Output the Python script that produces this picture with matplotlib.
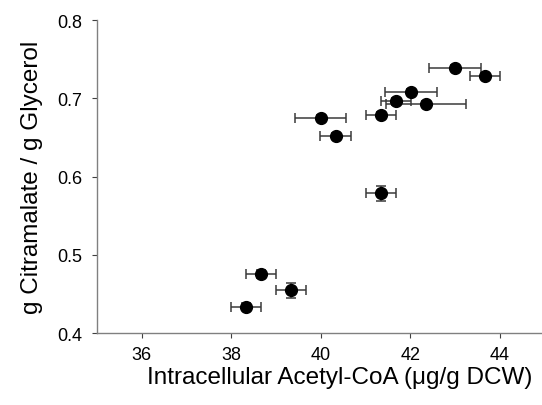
import matplotlib
matplotlib.use("Agg")
import matplotlib.pyplot as plt

plt.rcParams['font.family'] = ['Liberation Sans', 'DejaVu Sans']

# intracellular acetyl-CoA (ug/g DCW) and citramalate yield
acetyl_coa = [43.0, 43.67, 42.01, 41.68, 42.35, 41.35, 40.0, 40.33, 41.35, 38.66, 39.34, 38.33]
acetyl_err = [0.58, 0.335, 0.58, 0.33, 0.89, 0.335, 0.57, 0.34, 0.335, 0.335, 0.335, 0.335]
yield_cit = [0.739, 0.729, 0.708, 0.696, 0.693, 0.679, 0.675, 0.652, 0.579, 0.476, 0.455, 0.434]
yield_err = [0.004, 0.004, 0.004, 0.004, 0.004, 0.004, 0.004, 0.004, 0.0096, 0.005, 0.0096, 0.004]

x_ticks = [36, 38, 40, 42, 44]
y_ticks = [0.4, 0.5, 0.6, 0.7, 0.8]

fig = plt.figure(figsize=(5.42, 4.06), dpi=100)
ax = fig.add_axes([0.179, 0.177, 0.826, 0.771])

ax.errorbar(acetyl_coa, yield_cit, xerr=acetyl_err, yerr=yield_err,
            fmt='o', color='black', markersize=8.5, ecolor='#3a3a3a',
            elinewidth=1.1, capsize=3.6, capthick=1.1, zorder=3)

ax.set_xlim(35, 45)
ax.set_ylim(0.4, 0.8)
ax.set_xticks(x_ticks)
ax.set_yticks(y_ticks)
ax.set_yticklabels([f"{v:.1f}" for v in y_ticks])

for side in ['top', 'right']:
    ax.spines[side].set_visible(False)
for side in ['left', 'bottom']:
    ax.spines[side].set_color('#808080')
    ax.spines[side].set_linewidth(1.0)

ax.tick_params(direction='out', length=3.5, width=0.8, color='#404040',
               labelsize=13)
ax.tick_params(axis='x', pad=6)
ax.tick_params(axis='y', pad=7)

ax.set_xlabel("Intracellular Acetyl-CoA (\u03bcg/g DCW)", fontsize=17.5)
ax.xaxis.set_label_coords(0.543, -0.105)
ax.set_ylabel("g Citramalate / g Glycerol", fontsize=17.5, labelpad=10)

fig.savefig("out.png", dpi=100)
